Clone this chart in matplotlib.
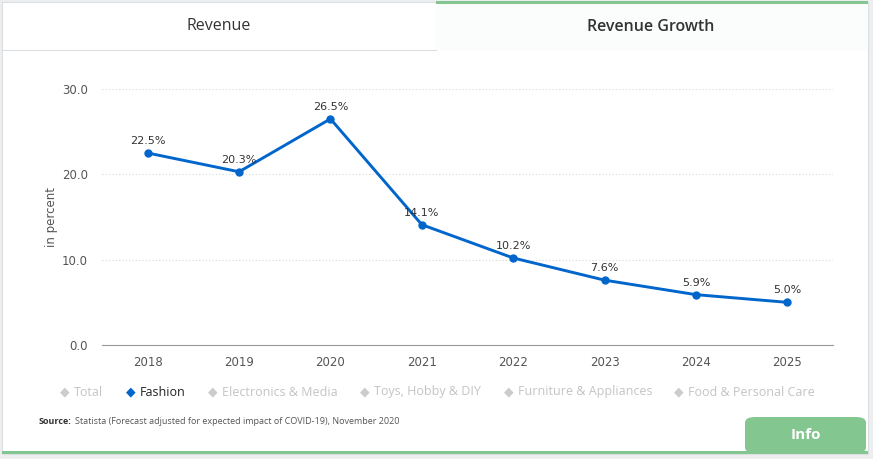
import matplotlib.pyplot as plt
from matplotlib.patches import Rectangle, FancyBboxPatch

years = ['2018', '2019', '2020', '2021', '2022', '2023', '2024', '2025']
growth = [22.5, 20.3, 26.5, 14.1, 10.2, 7.6, 5.9, 5.0]
legend_items = ['Total', 'Fashion', 'Electronics & Media', 'Toys, Hobby & DIY',
                'Furniture & Appliances', 'Food & Personal Care']
source = 'Statista (Forecast adjusted for expected impact of COVID-19), November 2020'

W, H = 873, 459
fig = plt.figure(figsize=(W / 100, H / 100), dpi=100)
fig.patch.set_facecolor('#eceef0')

def px(x, y, w, h, **kw):
    # rectangle in pixel coords (top-left origin), kept behind the axes
    r = Rectangle((x / W, 1 - (y + h) / H), w / W, h / H, transform=fig.transFigure,
                  zorder=-5, **kw)
    fig.add_artist(r)
    return r

# card
px(2, 2, 866, 452, facecolor='white', edgecolor='#dcdfe2', lw=0.8)
# tabs
px(2, 2, 434, 48, facecolor='white', edgecolor='#dcdfe2', lw=0.8)
px(436, 2, 432, 48, facecolor='#fbfcfc', edgecolor='none')
px(436, 1, 432, 3, facecolor='#84c68f', edgecolor='none')
px(2, 451, 866, 3, facecolor='#84c68f', edgecolor='none')
info = FancyBboxPatch((745 / W, 1 - 453 / H), 121 / W, 36 / H,
                      boxstyle='round,pad=0,rounding_size=0.012',
                      transform=fig.transFigure, facecolor='#84c68f', edgecolor='none',
                      zorder=-5)
fig.add_artist(info)

fig.text(219 / W, 1 - 26 / H, 'Revenue', ha='center', va='center', fontsize=11.5,
         color='#333333', family='Open Sans')
fig.text(651 / W, 1 - 27 / H, 'Revenue Growth', ha='center', va='center', fontsize=11.5,
         color='#333333', fontweight='semibold', family='Open Sans')
fig.text(806 / W, 1 - 435 / H, 'Info', ha='center', va='center', fontsize=11,
         color='white', fontweight='bold', family='Open Sans')

ax = fig.add_axes([102 / W, 1 - 345 / H, 731 / W, 256 / H])
ax.set_facecolor('none')
ax.set_zorder(2)
x = list(range(len(years)))
ax.plot(x, growth, color='#0066cc', lw=2.1, marker='o', ms=5, zorder=3)
for xi, v in zip(x, growth):
    ax.annotate(f'{v}%', (xi, v), xytext=(0, 5), textcoords='offset points',
                ha='center', va='bottom', fontsize=8, color='#333333')

ax.set_xlim(-0.5, len(years) - 0.5)
ax.set_ylim(0, 30)
ax.set_yticks([0, 10, 20, 30])
ax.set_yticklabels(['0.0', '10.0', '20.0', '30.0'])
ax.set_xticks(x)
ax.set_xticklabels(years)
ax.grid(axis='y', color='#d8d8d8', ls=(0, (1, 2)), lw=0.8)
for s in ['top', 'right', 'left']:
    ax.spines[s].set_visible(False)
ax.spines['bottom'].set_color('#999999')
ax.tick_params(axis='both', length=0, labelsize=8.5, colors='#555555')
ax.tick_params(axis='x', pad=8)
ax.tick_params(axis='y', pad=10)
ax.set_ylabel('in percent', fontsize=8.5, color='#555555', labelpad=3)

# legend row
lx = [65, 131, 213, 365, 509, 679]
for xi, name in zip(lx, legend_items):
    active = name == 'Fashion'
    c = '#0066cc' if active else '#cccccc'
    fig.text(xi / W, 1 - 392 / H, '\u25c6', ha='center', va='center', fontsize=9, color=c)
    fig.text((xi + 9) / W, 1 - 392 / H, name, ha='left', va='center', fontsize=9,
             color='#222222' if active else '#c4c4c4', family='Open Sans')

fig.text(39 / W, 1 - 421 / H, 'Source:', ha='left', va='center', fontsize=6.5,
         color='#333333', fontweight='bold', family='Open Sans')
fig.text(75 / W, 1 - 421 / H, source, ha='left', va='center', fontsize=6.5,
         color='#555555', family='Open Sans')

fig.savefig('out.png', dpi=100, facecolor=fig.get_facecolor())
